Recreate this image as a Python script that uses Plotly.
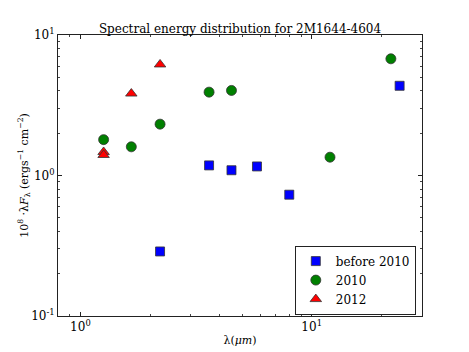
import plotly.graph_objects as go

# wavelength (micron) and 1e8 * lambda F_lambda for each epoch
wl_before = [2.21, 3.6, 4.5, 5.8, 8.0, 24.0]
flux_before = [0.288, 1.18, 1.09, 1.16, 0.73, 4.35]

wl_2010 = [1.26, 1.66, 2.21, 3.6, 4.5, 12.0, 22.0]
flux_2010 = [1.80, 1.60, 2.32, 3.92, 4.03, 1.35, 6.77]

wl_2012 = [1.26, 1.26, 1.66, 2.21]
flux_2012 = [1.47, 1.40, 3.83, 6.17]

font = "DejaVu Serif, Liberation Serif, serif"
edge = dict(color="#333333", width=0.8)

fig = go.Figure()
fig.add_trace(go.Scatter(x=wl_before, y=flux_before, mode="markers", name="before 2010",
                         marker=dict(symbol="square", size=9, color="#0000ff", line=edge)))
fig.add_trace(go.Scatter(x=wl_2010, y=flux_2010, mode="markers", name="2010",
                         marker=dict(symbol="circle", size=10, color="#008000", line=edge)))
fig.add_trace(go.Scatter(x=wl_2012, y=flux_2012, mode="markers", name="2012",
                         marker=dict(symbol="triangle-up", size=10, color="#ff0000", line=edge)))

xminor = [0.8, 0.9] + [2, 3, 4, 5, 6, 7, 8, 9] + [20, 30]
yminor = [m * 0.1 for m in range(2, 10)] + list(range(2, 10))

axis_common = dict(type="log", showgrid=False, zeroline=False, showline=True, automargin=False,
                   linecolor="#222222", linewidth=1, mirror="ticks", ticks="inside",
                   ticklen=4, tickcolor="#222222", tickfont=dict(family=font, size=12, color="black"))

fig.update_xaxes(**axis_common, range=[-0.0969, 1.477],
                 tickvals=[1, 10], ticktext=["10<sup>0</sup>", "10<sup>1</sup>"],
                 minor=dict(ticks="inside", ticklen=2, tickcolor="#444444", tickvals=xminor),
                 title=dict(text="λ(<i>μm</i>)", font=dict(family=font, size=11), standoff=2))
fig.update_yaxes(**axis_common, range=[-1, 1],
                 tickvals=[0.1, 1, 10], ticktext=["10<sup>-1</sup>", "10<sup>0</sup>", "10<sup>1</sup>"],
                 minor=dict(ticks="inside", ticklen=2, tickcolor="#444444", tickvals=yminor),
                 title=dict(text="10<sup>8</sup> ·λ<i>F</i><sub>λ</sub> (ergs<sup>−1</sup> cm<sup>−2</sup>)",
                            font=dict(family=font, size=11), standoff=0))

# the page body adds an 8px offset, so margins are shifted to compensate
fig.update_layout(
    width=469, height=352,
    margin=dict(l=50, r=55, t=27, b=44, autoexpand=False),
    paper_bgcolor="white", plot_bgcolor="white",
    title=dict(text="Spectral energy distribution for 2M1644-4604", x=0.5, xref="paper",
               y=0.928, yanchor="bottom", automargin=False,
               font=dict(family=font, size=12, color="black")),
    font=dict(family=font, color="black"),
    legend=dict(x=0.983, y=0.005, xanchor="right", yanchor="bottom",
                bordercolor="#222222", borderwidth=1, bgcolor="white",
                font=dict(family=font, size=12), tracegroupgap=0),
)

fig.write_html("out.html")
